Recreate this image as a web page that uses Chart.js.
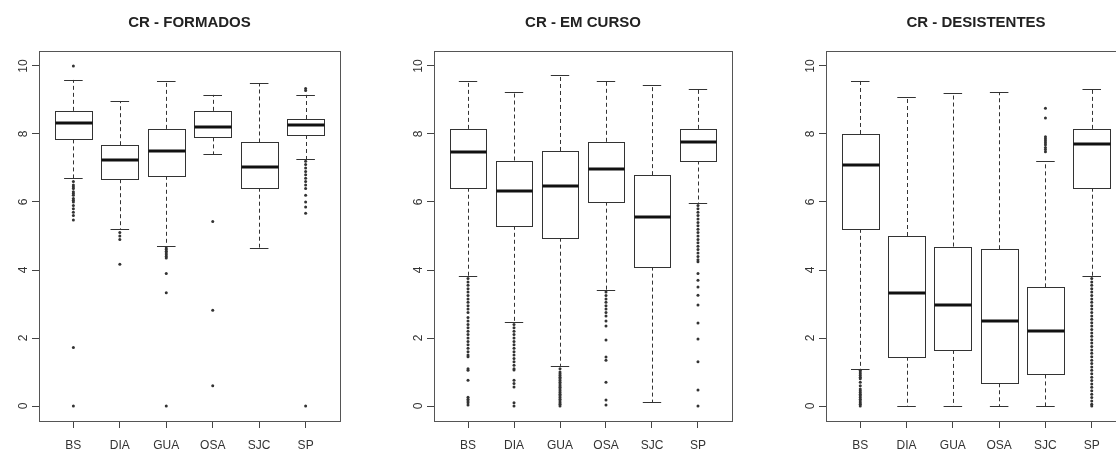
<!DOCTYPE html>
<html>
<head>
<meta charset="utf-8">
<script src="https://cdn.jsdelivr.net/npm/chart.js@4.4.1/dist/chart.umd.min.js"></script>
<style>
  html, body { margin: 0; padding: 0; background: #fff; overflow: hidden; }
  body { position: relative; width: 1116px; height: 451px; }
  .panel { position: absolute; top: 0; height: 451px; }
</style>
</head>
<body>
<div class="panel" style="left:0;width:372px"><canvas id="formados" width="372" height="451"></canvas></div>
<div class="panel" style="left:372px;width:372px"><canvas id="emCurso" width="372" height="451"></canvas></div>
<div class="panel" style="left:744px;width:400px"><canvas id="desistentes" width="400" height="451"></canvas></div>
<script>
// 類別與刻度
const categories = ['BS', 'DIA', 'GUA', 'OSA', 'SJC', 'SP'];
const yTicks = [0, 2, 4, 6, 8, 10];

// CR - FORMADOS
const formadosLow = [6.70, 5.21, 4.72, 7.40, 4.66, 7.25];
const formadosQ1 = [7.84, 6.67, 6.77, 7.90, 6.42, 7.97];
const formadosMedian = [8.31, 7.23, 7.51, 8.21, 7.04, 8.25];
const formadosQ3 = [8.68, 7.67, 8.15, 8.68, 7.75, 8.44];
const formadosHigh = [9.59, 8.97, 9.57, 9.15, 9.49, 9.15];
const formadosOutliers = [
    [10.0, 6.6, 6.5, 6.45, 6.4, 6.3, 6.25, 6.2, 6.1, 6.05, 6.0, 5.9, 5.8, 5.7, 5.6, 5.47, 1.72, 0],
    [5.1, 5.0, 4.9, 4.17],
    [4.65, 4.6, 4.55, 4.5, 4.45, 4.4, 4.35, 3.9, 3.33, 0],
    [5.43, 2.82, 0.6],
    [],
    [9.34, 9.28, 7.2, 7.1, 7.0, 6.9, 6.8, 6.7, 6.6, 6.5, 6.4, 6.2, 6.0, 5.85, 5.67, 0]
];

// CR - EM CURSO
const emCursoLow = [3.82, 2.47, 1.18, 3.41, 0.11, 5.96];
const emCursoQ1 = [6.42, 5.30, 4.95, 6.01, 4.10, 7.22];
const emCursoMedian = [7.48, 6.33, 6.48, 6.98, 5.57, 7.75];
const emCursoQ3 = [8.15, 7.22, 7.50, 7.77, 6.79, 8.15];
const emCursoHigh = [9.57, 9.23, 9.73, 9.57, 9.44, 9.32];
const emCursoOutliers = [
    [3.75, 3.65, 3.55, 3.45, 3.35, 3.25, 3.15, 3.05, 2.95, 2.85, 2.75, 2.6, 2.5, 2.4, 2.3, 2.2, 2.1, 2.0,
     1.9, 1.8, 1.7, 1.6, 1.5, 1.45, 1.1, 1.05, 0.76, 0.26, 0.2, 0.15, 0.1, 0.03],
    [2.4, 2.3, 2.2, 2.1, 2.0, 1.9, 1.8, 1.7, 1.6, 1.5, 1.4, 1.3, 1.2, 1.1, 1.06, 0.76, 0.66, 0.56, 0.1, 0],
    [1.1, 1.0, 0.95, 0.9, 0.85, 0.8, 0.75, 0.7, 0.65, 0.6, 0.55, 0.5, 0.45, 0.4, 0.35, 0.3, 0.25, 0.2,
     0.15, 0.1, 0.05, 0],
    [3.35, 3.25, 3.15, 3.05, 2.95, 2.85, 2.75, 2.65, 2.5, 2.35, 1.94, 1.44, 1.35, 0.7, 0.18, 0.03],
    [],
    [5.9, 5.8, 5.7, 5.6, 5.5, 5.4, 5.3, 5.2, 5.1, 5.0, 4.9, 4.8, 4.7, 4.6, 4.5, 4.4, 4.3, 4.24,
     3.9, 3.7, 3.5, 3.26, 2.97, 2.44, 1.97, 1.3, 0.47, 0]
];

// CR - DESISTENTES
const desistentesLow = [1.09, 0, 0, 0, 0, 3.82];
const desistentesQ1 = [5.21, 1.45, 1.65, 0.67, 0.93, 6.42];
const desistentesMedian = [7.08, 3.31, 2.97, 2.50, 2.22, 7.71];
const desistentesQ3 = [8.00, 5.00, 4.69, 4.61, 3.49, 8.15];
const desistentesHigh = [9.56, 9.08, 9.20, 9.22, 7.20, 9.32];
const desistentesOutliers = [
    [1.05, 1.0, 0.95, 0.9, 0.85, 0.8, 0.7, 0.6, 0.5, 0.45, 0.4, 0.35, 0.3, 0.25, 0.2, 0.15, 0.1, 0.05, 0],
    [],
    [],
    [],
    [8.76, 8.47, 7.92, 7.86, 7.8, 7.74, 7.68, 7.6, 7.54, 7.48],
    [3.75, 3.65, 3.55, 3.45, 3.35, 3.25, 3.15, 3.05, 2.95, 2.85, 2.75, 2.65, 2.55, 2.45, 2.35, 2.25,
     2.15, 2.05, 1.95, 1.85, 1.75, 1.65, 1.55, 1.45, 1.35, 1.25, 1.15, 1.05, 0.95, 0.85, 0.75, 0.65,
     0.55, 0.45, 0.35, 0.25, 0.15, 0.05, 0]
];

const fontFamily = "'Liberation Sans', Arial, sans-serif";

// 盒鬚圖繪製外掛
const boxplotPlugin = {
    id: 'boxplot',
    beforeDatasetsDraw(chart, args, opts) {
        const ctx = chart.ctx;
        const x = chart.scales.x;
        const y = chart.scales.y;
        const px = v => Math.round(v) + 0.5;
        ctx.save();
        opts.median.forEach((m, i) => {
            const cx = x.getPixelForValue(i + 1);
            const hw = x.getPixelForValue(i + 1.4) - cx;
            const sw = x.getPixelForValue(i + 1.2) - cx;
            const yLow = y.getPixelForValue(opts.low[i]);
            const yQ1 = y.getPixelForValue(opts.q1[i]);
            const yMed = y.getPixelForValue(m);
            const yQ3 = y.getPixelForValue(opts.q3[i]);
            const yHigh = y.getPixelForValue(opts.high[i]);

            ctx.strokeStyle = '#333';
            ctx.lineWidth = 1;
            // 鬚線 (虛線)
            ctx.setLineDash([4, 3]);
            ctx.beginPath();
            ctx.moveTo(px(cx), yQ3);
            ctx.lineTo(px(cx), yHigh);
            ctx.moveTo(px(cx), yQ1);
            ctx.lineTo(px(cx), yLow);
            ctx.stroke();
            ctx.setLineDash([]);
            // 端點橫線
            ctx.beginPath();
            ctx.moveTo(cx - sw, px(yHigh));
            ctx.lineTo(cx + sw, px(yHigh));
            ctx.moveTo(cx - sw, px(yLow));
            ctx.lineTo(cx + sw, px(yLow));
            ctx.stroke();
            // 盒子
            ctx.fillStyle = '#fff';
            const left = px(cx - hw), right = px(cx + hw);
            ctx.fillRect(left, px(yQ3), right - left, px(yQ1) - px(yQ3));
            ctx.strokeRect(left, px(yQ3), right - left, px(yQ1) - px(yQ3));
            // 中位數
            ctx.strokeStyle = '#111';
            ctx.lineWidth = 3;
            ctx.beginPath();
            ctx.moveTo(left, Math.round(yMed));
            ctx.lineTo(right, Math.round(yMed));
            ctx.stroke();
        });
        ctx.restore();
    },
    afterDraw(chart) {
        const {ctx, chartArea} = chart;
        ctx.save();
        ctx.strokeStyle = '#555';
        ctx.lineWidth = 1;
        ctx.strokeRect(Math.round(chartArea.left) + 0.5, Math.round(chartArea.top) + 0.5,
            Math.round(chartArea.right - chartArea.left), Math.round(chartArea.bottom - chartArea.top));
        ctx.restore();
    }
};

function makePanel(id, title, leftWidth, rightPad, low, q1, median, q3, high, outliers) {
    const points = [];
    outliers.forEach((arr, i) => arr.forEach(v => points.push({x: i + 1, y: v})));

    return new Chart(document.getElementById(id), {
        type: 'scatter',
        data: {
            datasets: [{
                data: points,
                pointRadius: 1.5,
                pointBackgroundColor: '#333',
                pointBorderWidth: 0
            }]
        },
        options: {
            responsive: false,
            animation: false,
            layout: { padding: { left: 0, right: rightPad, top: 0, bottom: 0 } },
            plugins: {
                legend: { display: false },
                tooltip: { enabled: false },
                title: {
                    display: true,
                    fullSize: false,
                    text: title,
                    color: '#222',
                    font: { family: fontFamily, size: 15, weight: 'bold' },
                    padding: { top: 14, bottom: 19 }
                },
                boxplot: { low, q1, median, q3, high }
            },
            scales: {
                x: {
                    type: 'linear',
                    min: 0.26,
                    max: 6.74,
                    afterBuildTicks: s => { s.ticks = categories.map((c, i) => ({ value: i + 1 })); },
                    afterFit: s => { s.height = 30; },
                    ticks: {
                        callback: v => categories[v - 1],
                        color: '#333',
                        font: { family: fontFamily, size: 12 },
                        padding: 10,
                        maxRotation: 0,
                        autoSkip: false
                    },
                    grid: { drawOnChartArea: false, drawTicks: true, tickLength: 7, color: '#444' },
                    border: { display: false }
                },
                y: {
                    min: -0.44,
                    max: 10.44,
                    afterBuildTicks: s => { s.ticks = yTicks.map(v => ({ value: v })); },
                    afterFit: s => { s.width = leftWidth; },
                    ticks: {
                        color: '#333',
                        font: { family: fontFamily, size: 12 },
                        minRotation: 90,
                        maxRotation: 90,
                        crossAlign: 'center',
                        padding: 2
                    },
                    grid: { drawOnChartArea: false, drawTicks: true, tickLength: 7, color: '#444' },
                    border: { display: false }
                }
            }
        },
        plugins: [boxplotPlugin]
    });
}

makePanel('formados', 'CR - FORMADOS', 39, 32,
    formadosLow, formadosQ1, formadosMedian, formadosQ3, formadosHigh, formadosOutliers);
makePanel('emCurso', 'CR - EM CURSO', 62, 12,
    emCursoLow, emCursoQ1, emCursoMedian, emCursoQ3, emCursoHigh, emCursoOutliers);
makePanel('desistentes', 'CR - DESISTENTES', 82, 18,
    desistentesLow, desistentesQ1, desistentesMedian, desistentesQ3, desistentesHigh, desistentesOutliers);
</script>
</body>
</html>
